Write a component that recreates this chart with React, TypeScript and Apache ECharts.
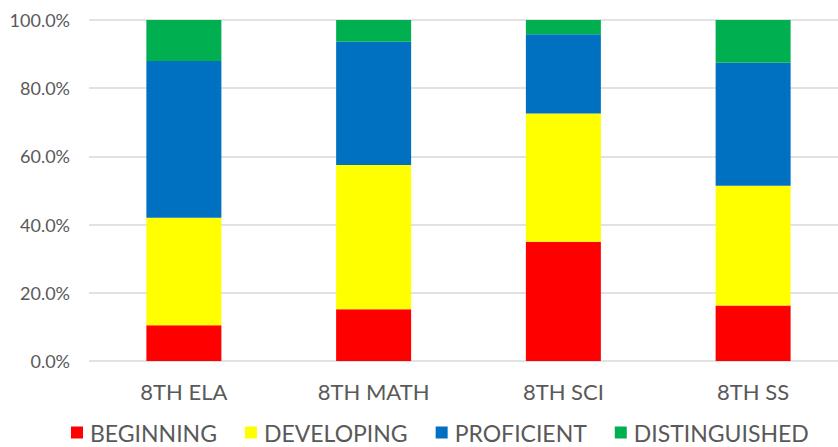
import React, { useEffect, useRef } from "react";
import * as echarts from "echarts";

const categories = ["8TH ELA", "8TH MATH", "8TH SCI", "8TH SS"];
const beginning = [10.5, 15.2, 35.0, 16.3];
const developing = [31.5, 42.3, 37.6, 35.1];
const proficient = [46.0, 36.1, 23.2, 36.1];
const distinguished = [12.0, 6.4, 4.2, 12.5];
const seriesNames = ["BEGINNING", "DEVELOPING", "PROFICIENT", "DISTINGUISHED"];
const seriesColors = ["#ff0000", "#ffff00", "#0070c0", "#00b050"];

export default function App() {
  const ref = useRef<HTMLDivElement>(null);
  useEffect(() => {
    if (!ref.current) return;
    const chart = echarts.init(ref.current, undefined, { renderer: "svg" });
    const data = [beginning, developing, proficient, distinguished];
    chart.setOption({
      animation: false,
      backgroundColor: "#ffffff",
      textStyle: { fontFamily: "Lato" },
      grid: { left: 89, top: 20, width: 759, height: 341, containLabel: false },
      legend: {
        left: 71,
        top: 421,
        padding: 0,
        itemWidth: 12,
        itemHeight: 12,
        itemGap: 28,
        icon: "rect",
        textStyle: { fontSize: 23, color: "#595959", fontFamily: "Lato", padding: [0, 0, 0, 2] },
        data: seriesNames,
      },
      xAxis: {
        type: "category",
        data: categories,
        axisLine: { show: false },
        axisTick: { show: false },
        axisLabel: { fontSize: 22, color: "#595959", margin: 19, fontFamily: "Lato" },
      },
      yAxis: {
        type: "value",
        min: 0,
        max: 100,
        interval: 20,
        axisLine: { show: false },
        axisTick: { show: false },
        axisLabel: {
          fontSize: 18,
          color: "#595959",
          margin: 19,
          fontFamily: "Lato",
          formatter: (v: number) => v.toFixed(1) + "%",
        },
        splitLine: { lineStyle: { color: "#d9d9d9", width: 1.5 } },
      },
      series: seriesNames.map((name, i) => ({
        name,
        type: "bar",
        stack: "total",
        barWidth: 75,
        itemStyle: { color: seriesColors[i] },
        data: data[i],
      })),
    });
    return () => chart.dispose();
  }, []);
  return (
    <div style={{ width: 838, height: 447, position: "absolute", left: 0, top: 0, overflow: "hidden", background: "#fff" }}>
      <div ref={ref} style={{ width: 860, height: 447 }} />
    </div>
  );
}
